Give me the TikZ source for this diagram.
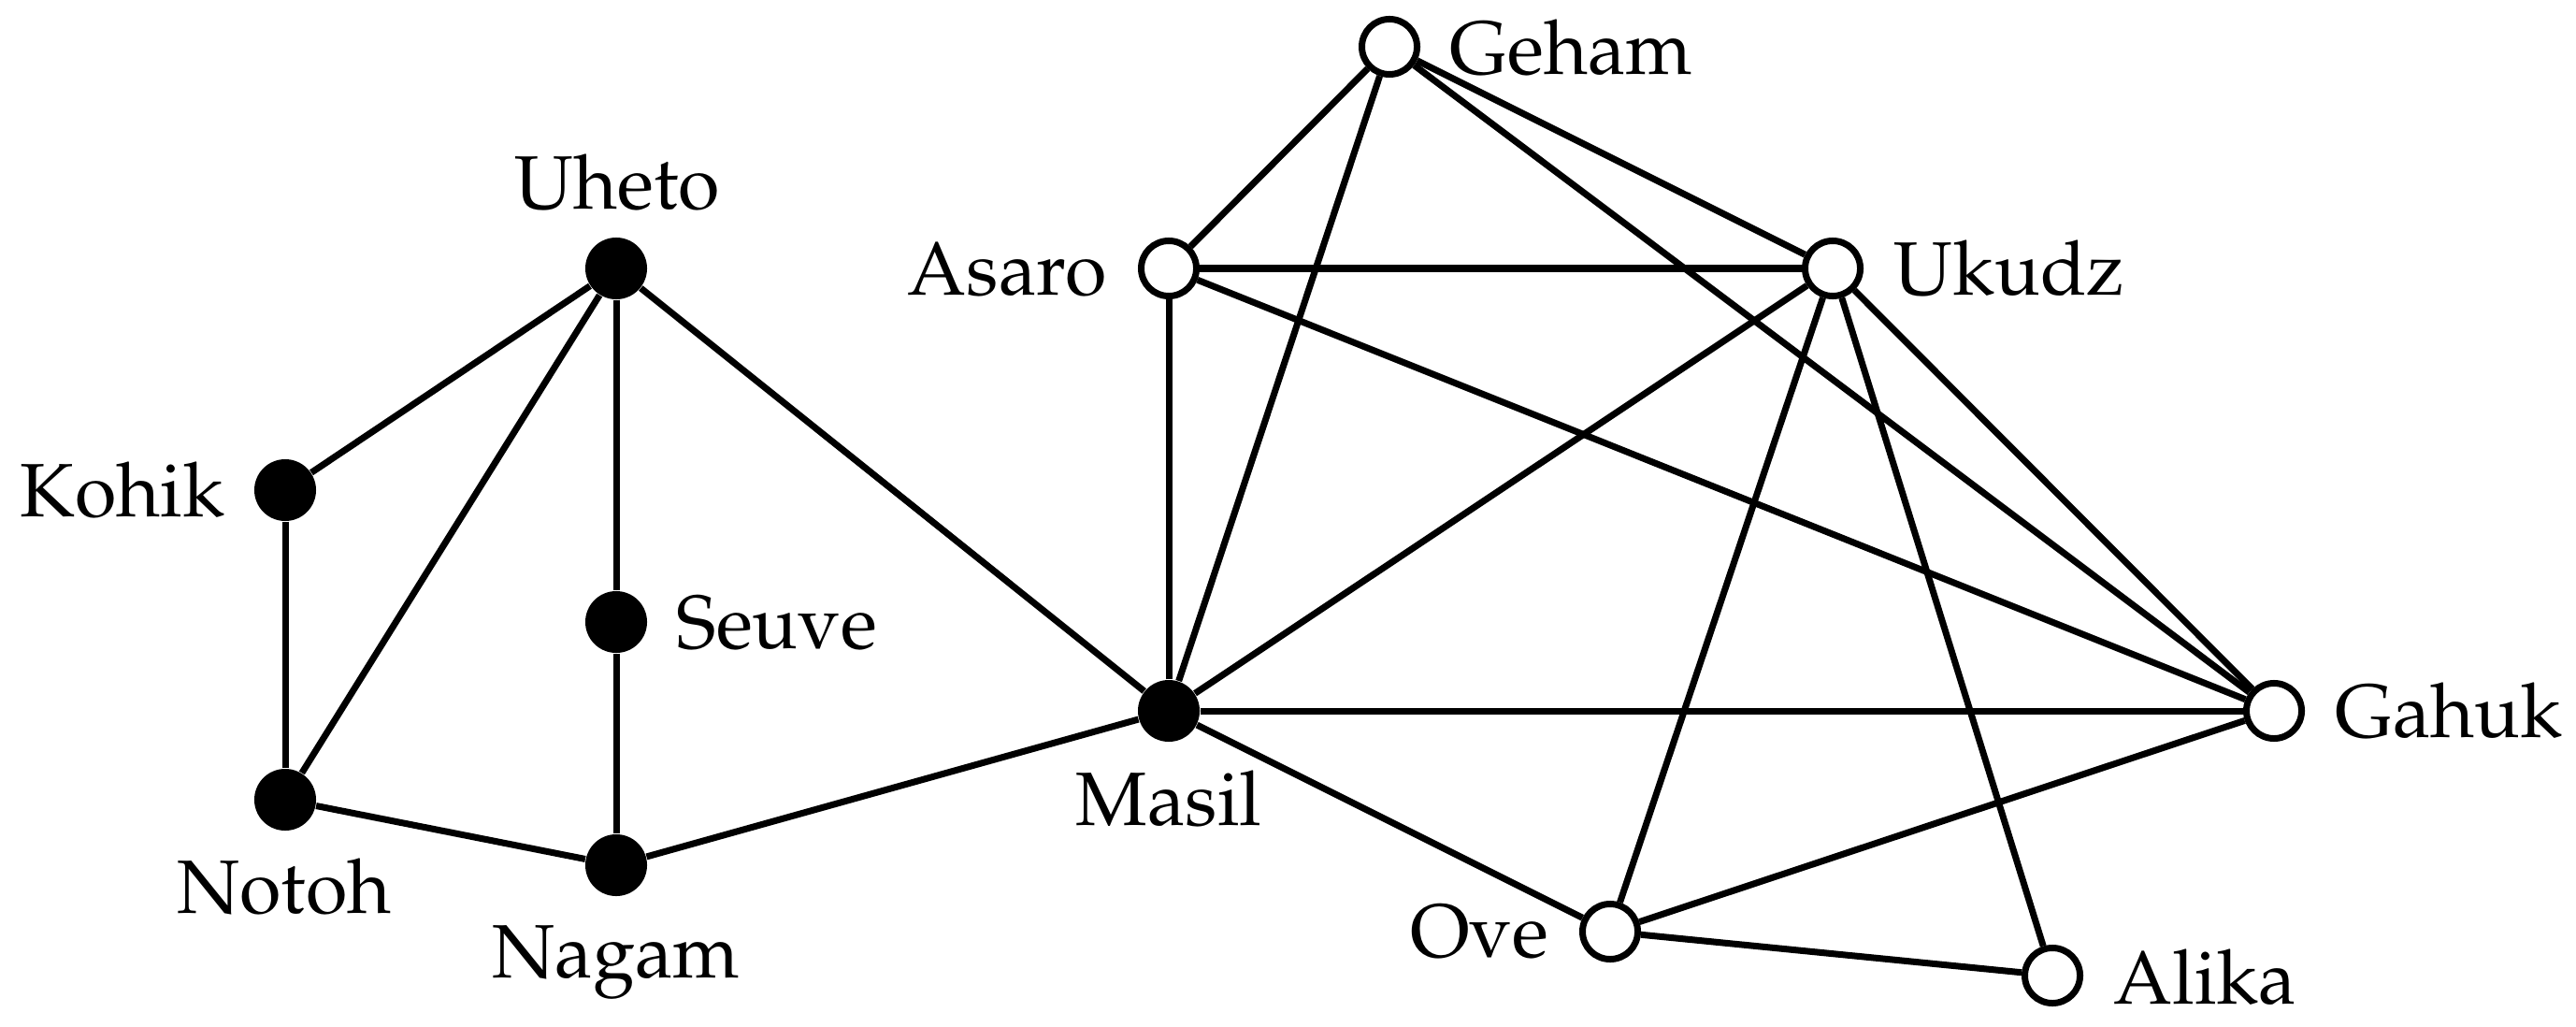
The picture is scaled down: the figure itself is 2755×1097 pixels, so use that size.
\documentclass[tikz,border=0pt]{standalone}
\usepackage[T1]{fontenc}
\usepackage{mathpazo}
\begin{document}
\begin{tikzpicture}[x=0.01cm,y=-0.01cm,
  every node/.style={font=\fontsize{23}{27}\selectfont},
  full/.style={circle,fill=black,minimum size=0.66cm,inner sep=0pt},
  hollow/.style={circle,draw=black,fill=white,line width=0.07cm,minimum size=0.59cm,inner sep=0pt},
  lab/.style={inner sep=0pt},
  edge/.style={line width=0.07cm}]
\useasboundingbox (0,0) rectangle (2755,1097);
% nodes
\node[full] (uheto) at (659,287) {};
\node[full] (kohik) at (305,524) {};
\node[full] (seuve) at (659,665) {};
\node[full] (notoh) at (305,855) {};
\node[full] (nagam) at (659,925) {};
\node[full] (masil) at (1250,760) {};
\node[hollow] (asaro) at (1250,287) {};
\node[hollow] (geham) at (1486,50) {};
\node[hollow] (ukudz) at (1960,287) {};
\node[hollow] (gahuk) at (2432,760) {};
\node[hollow] (ove) at (1722,996) {};
\node[hollow] (alika) at (2195,1043) {};
% labels
\node[lab,anchor=base] (luheto) at (660,223) {Uheto};
\node[lab,anchor=base east] (lkohik) at (241,552) {Kohik};
\node[lab,anchor=base west] (lseuve) at (723,693) {Seuve};
\node[lab,anchor=base] (lnotoh) at (304,976) {Notoh};
\node[lab,anchor=base] (lnagam) at (659,1045) {Nagam};
\node[lab,anchor=base] (lmasil) at (1250,882) {Masil};
\node[lab,anchor=base east] (lasaro) at (1184,315) {Asaro};
\node[lab,anchor=base west] (lgeham) at (1550,80) {Geham};
\node[lab,anchor=base west] (lukudz) at (2025,315) {Ukudz};
\node[lab,anchor=base west] (lgahuk) at (2497,788) {Gahuk};
\node[lab,anchor=base east] (love) at (1657,1023) {Ove};
\node[lab,anchor=base west] (lalika) at (2260,1073) {Alika};
% edges
\draw[edge] (uheto) -- (kohik);
\draw[edge] (uheto) -- (notoh);
\draw[edge] (uheto) -- (seuve);
\draw[edge] (uheto) -- (masil);
\draw[edge] (kohik) -- (notoh);
\draw[edge] (seuve) -- (nagam);
\draw[edge] (notoh) -- (nagam);
\draw[edge] (nagam) -- (masil);
\draw[edge] (masil) -- (asaro);
\draw[edge] (masil) -- (geham);
\draw[edge] (masil) -- (ukudz);
\draw[edge] (masil) -- (gahuk);
\draw[edge] (masil) -- (ove);
\draw[edge] (asaro) -- (geham);
\draw[edge] (asaro) -- (ukudz);
\draw[edge] (asaro) -- (gahuk);
\draw[edge] (geham) -- (ukudz);
\draw[edge] (geham) -- (gahuk);
\draw[edge] (ukudz) -- (gahuk);
\draw[edge] (ukudz) -- (ove);
\draw[edge] (ukudz) -- (alika);
\draw[edge] (ove) -- (gahuk);
\draw[edge] (ove) -- (alika);
\end{tikzpicture}
\end{document}
